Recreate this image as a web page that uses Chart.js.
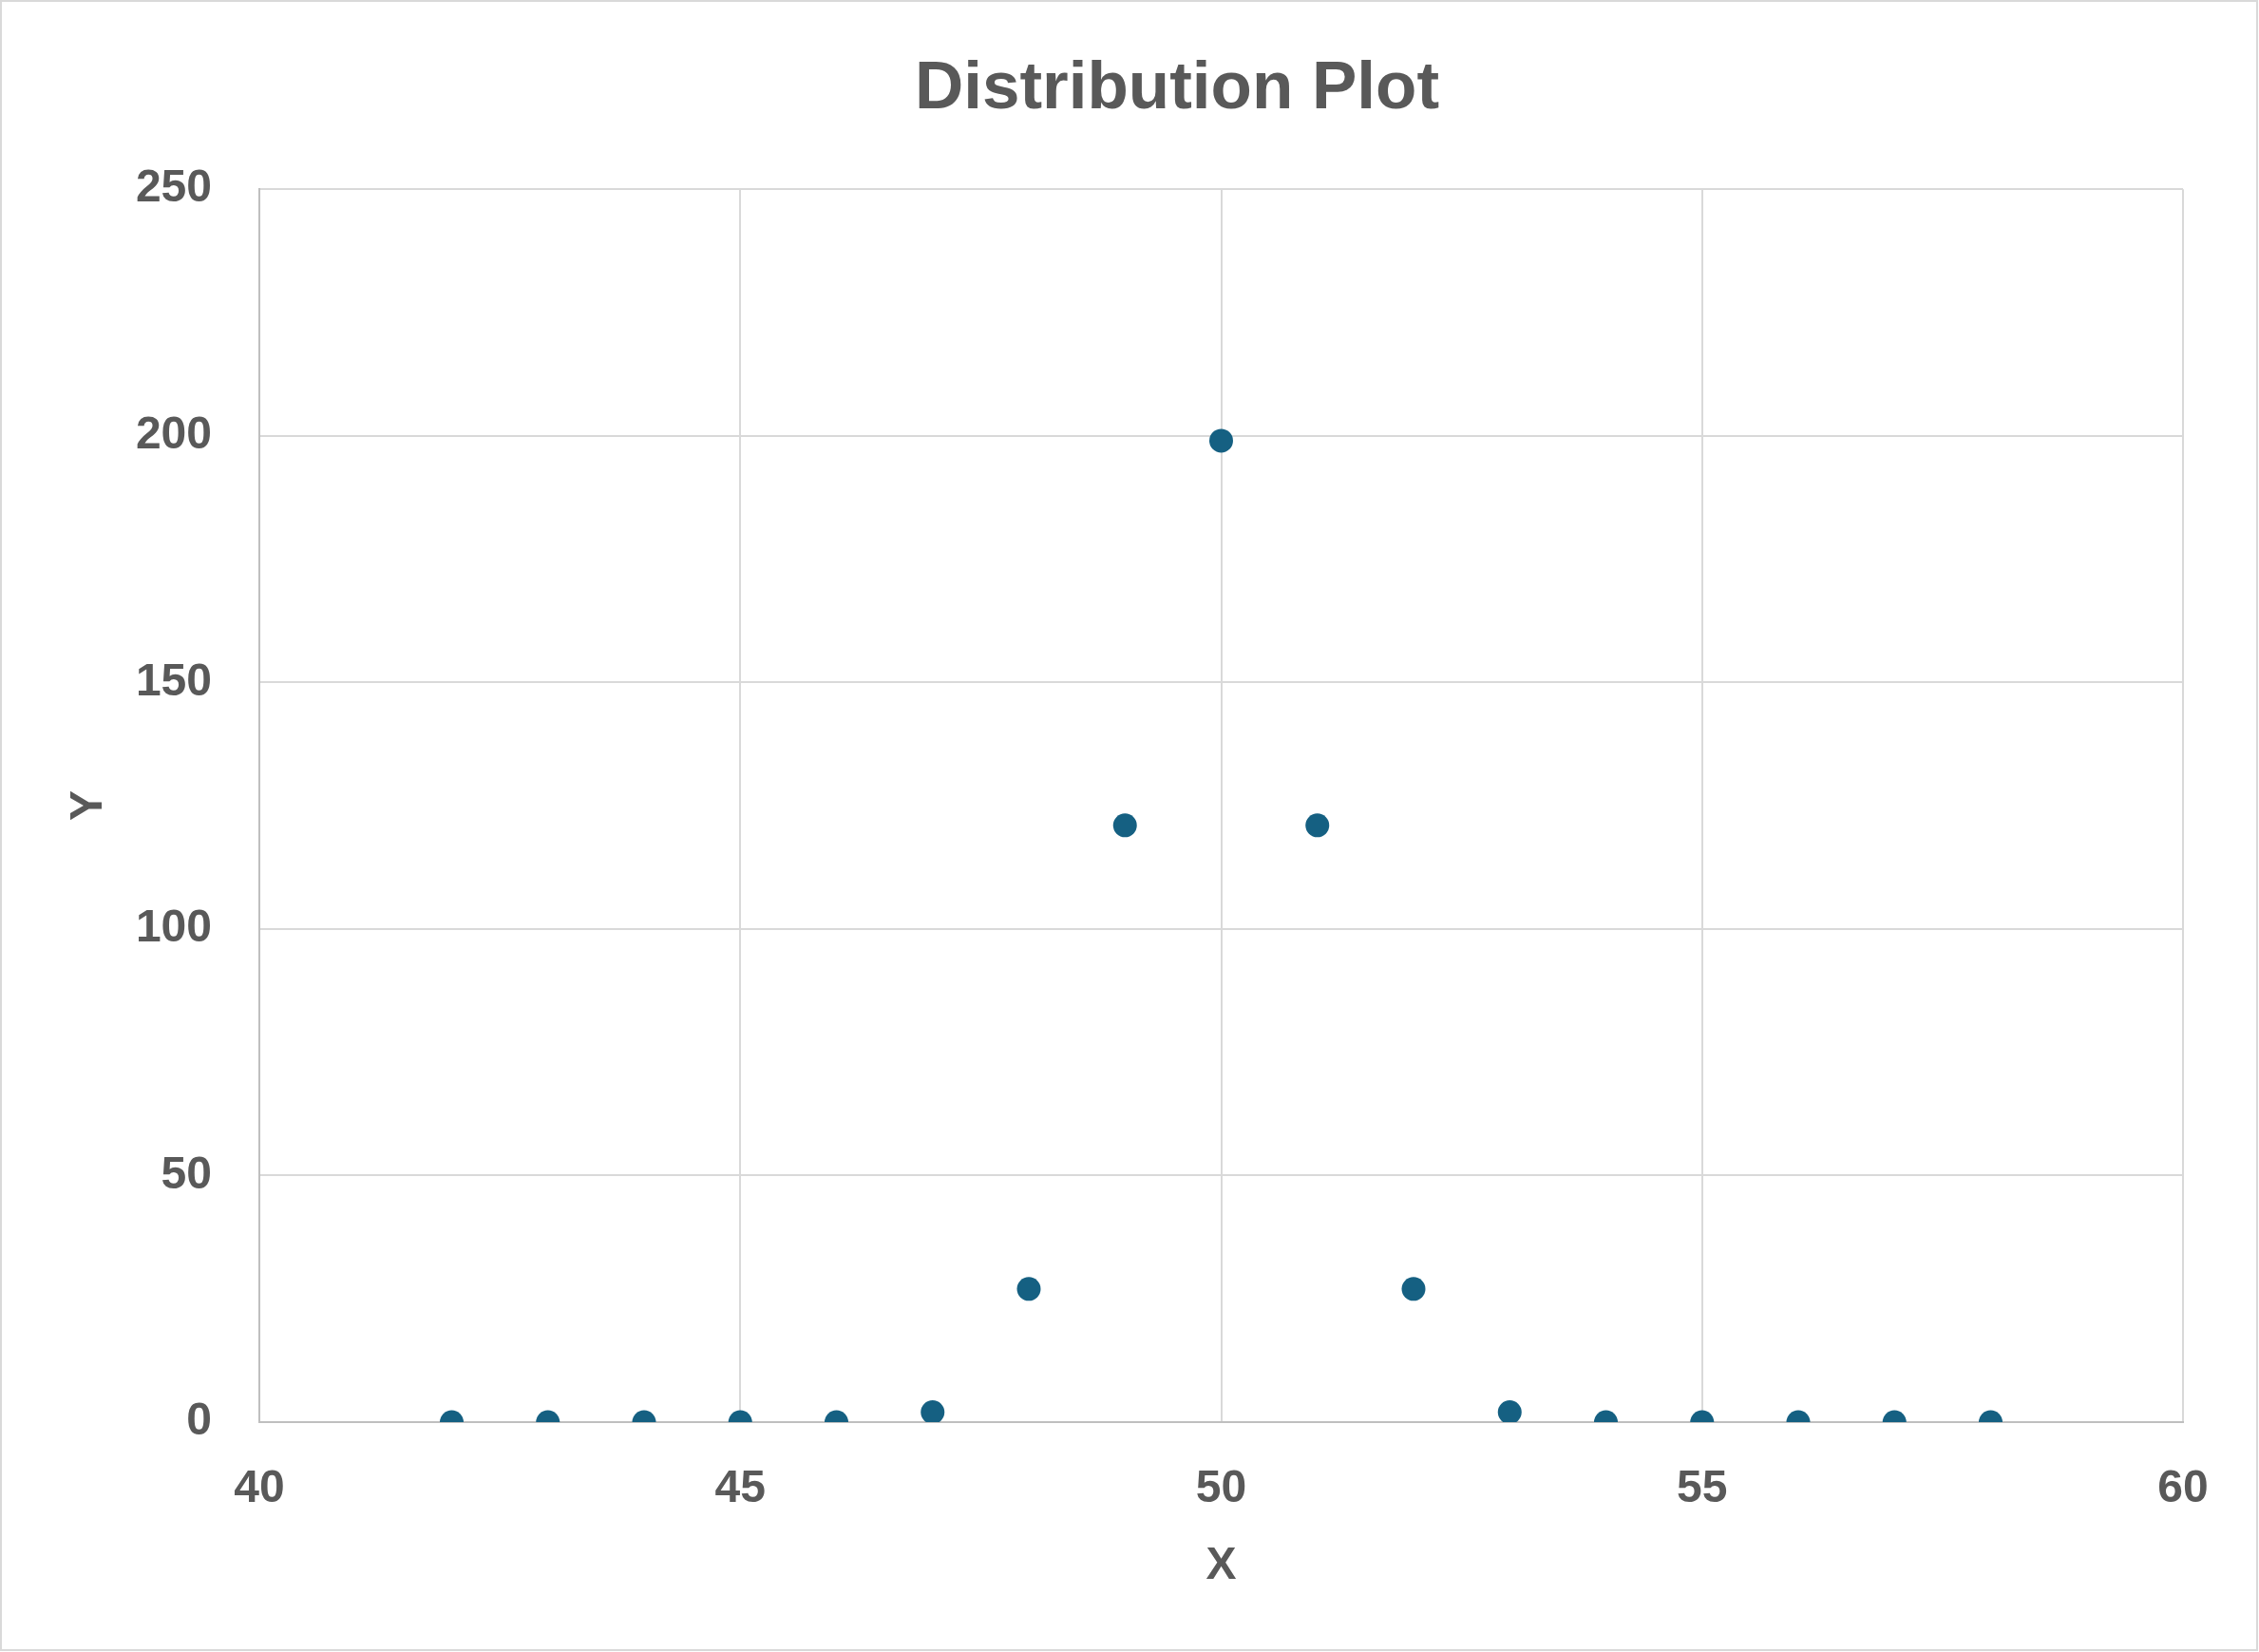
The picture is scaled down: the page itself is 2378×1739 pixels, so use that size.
<!DOCTYPE html>
<html>
<head>
<meta charset="utf-8">
<script src="https://cdn.jsdelivr.net/npm/chart.js@4.4.1/dist/chart.umd.min.js"></script>
<style>
  html, body { margin: 0; padding: 0; background: #ffffff; }
  #wrap { width: 2378px; height: 1739px; }
</style>
</head>
<body>
<div id="wrap"><canvas id="chart" width="2378" height="1739"></canvas></div>
<script>
// values
const xValues = [42, 43, 44, 45, 46, 47, 48, 49, 50, 51, 52, 53, 54, 55, 56, 57, 58];
const yValues = [0, 0, 0, 0, 0, 2, 27, 121, 199, 121, 27, 2, 0, 0, 0, 0, 0];
const xTicks = [40, 45, 50, 55, 60];
const yTicks = [0, 50, 100, 150, 200, 250];

const textGrey = "#595959";
const gridGrey = "#d9d9d9";
const axisGrey = "#bfbfbf";
const dotBlue = "#156082";
const fontFamily = "'Liberation Sans', Arial, sans-serif";

const points = xValues.map((x, i) => ({ x: x, y: yValues[i] }));

// white background + thin frame round the whole picture
const framePlugin = {
  id: "frame",
  beforeDraw(chart) {
    const ctx = chart.ctx;
    ctx.save();
    ctx.fillStyle = "#ffffff";
    ctx.fillRect(0, 0, chart.width, chart.height);
    ctx.strokeStyle = gridGrey;
    ctx.lineWidth = 2;
    ctx.strokeRect(1, 1, chart.width - 3, chart.height - 3);
    ctx.restore();
  },
};

// the title sits a bit right of the canvas centre, like the original
const titleShift = {
  id: "titleShift",
  afterLayout(chart) {
    const t = chart.titleBlock;
    if (t) {
      t.left += 90;
      t.right += 90;
    }
  },
};

const ctx = document.getElementById("chart").getContext("2d");
new Chart(ctx, {
  type: "scatter",
  data: {
    datasets: [
      {
        label: "Y",
        data: points,
        backgroundColor: dotBlue,
        borderWidth: 0,
        pointRadius: 12.5,
        pointHoverRadius: 12.5,
      },
    ],
  },
  options: {
    responsive: false,
    devicePixelRatio: 1,
    animation: false,
    layout: { padding: { left: 0, right: 80, top: 0, bottom: 0 } },
    plugins: {
      legend: { display: false },
      tooltip: { enabled: false },
      title: {
        display: true,
        text: "Distribution Plot",
        color: textGrey,
        font: { family: fontFamily, size: 71, weight: "bold" },
        padding: { top: 52, bottom: 62 },
      },
    },
    scales: {
      x: {
        type: "linear",
        min: xTicks[0],
        max: xTicks[xTicks.length - 1],
        afterBuildTicks: (scale) => {
          scale.ticks = xTicks.map((v) => ({ value: v }));
        },
        afterFit: (scale) => {
          scale.height = 242;
          scale.paddingLeft = 0;
          scale.paddingRight = 0;
        },
        ticks: {
          color: textGrey,
          padding: 42,
          font: { family: fontFamily, size: 48, weight: "bold" },
        },
        grid: {
          color: (c) => (c.tick && c.tick.value === xTicks[0] ? axisGrey : gridGrey),
          lineWidth: 2,
          drawTicks: false,
        },
        border: { color: axisGrey, width: 2 },
        title: {
          display: true,
          text: "X",
          color: textGrey,
          font: { family: fontFamily, size: 48, weight: "bold" },
          padding: { top: 0, bottom: 61 },
        },
      },
      y: {
        type: "linear",
        min: yTicks[0],
        max: yTicks[yTicks.length - 1],
        afterBuildTicks: (scale) => {
          scale.ticks = yTicks.map((v) => ({ value: v }));
        },
        afterFit: (scale) => {
          scale.width = 273;
          scale.paddingTop = 0;
          scale.paddingBottom = 0;
        },
        ticks: {
          color: textGrey,
          padding: 50,
          font: { family: fontFamily, size: 48, weight: "bold" },
        },
        grid: {
          color: (c) => (c.tick && c.tick.value === yTicks[0] ? axisGrey : gridGrey),
          lineWidth: 2,
          drawTicks: false,
        },
        border: { color: axisGrey, width: 2 },
        title: {
          display: true,
          text: "Y",
          color: textGrey,
          font: { family: fontFamily, size: 48, weight: "bold" },
          padding: { top: 65, bottom: 0 },
        },
      },
    },
  },
  plugins: [framePlugin, titleShift],
});
</script>
</body>
</html>
